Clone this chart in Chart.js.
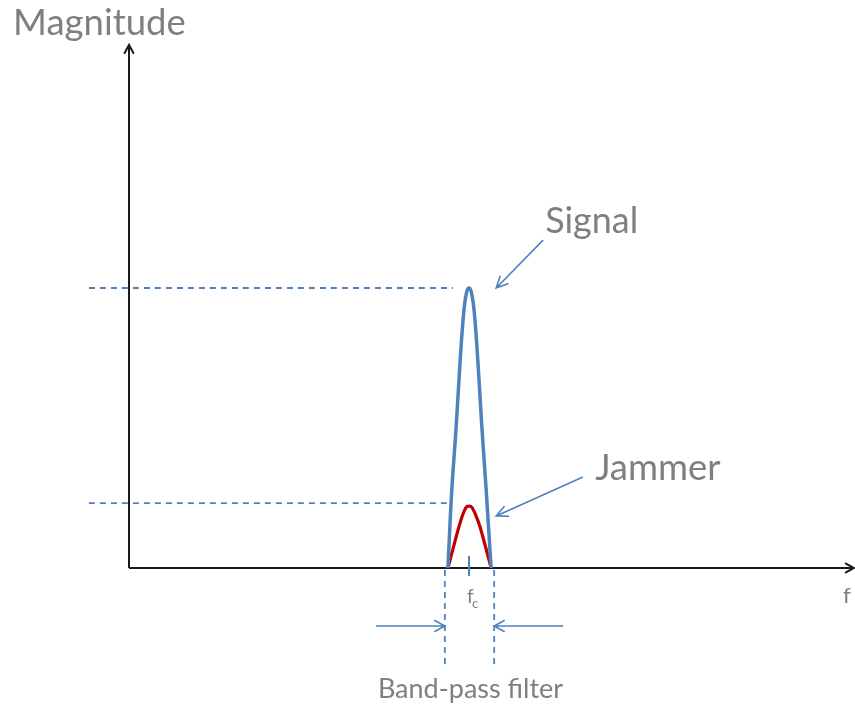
<!DOCTYPE html>
<html>
<head>
<meta charset="utf-8">
<script src="https://cdn.jsdelivr.net/npm/chart.js@4.4.1/dist/chart.umd.min.js"></script>
<style>
  html, body { margin: 0; padding: 0; background: #fff; overflow: hidden; }
  #wrap { width: 855px; height: 706px; }
</style>
</head>
<body>
<div id="wrap"><canvas id="spectrum"></canvas></div>
<script>
// frequency in arbitrary units (fc = 10), magnitude normalised to signal peak
const signalF   = [9.38, 9.49, 9.62, 9.74, 9.85, 9.93, 10.0, 10.07, 10.15, 10.26, 10.38, 10.51, 10.65];
const signalMag = [0.0, 0.27, 0.50, 0.74, 0.92, 0.985, 1.0, 0.985, 0.92, 0.74, 0.50, 0.27, 0.0];
const jammerF   = [9.38, 9.62, 9.76, 9.91, 10.0, 10.09, 10.26, 10.41, 10.65];
const jammerMag = [0.0, 0.11, 0.17, 0.216, 0.221, 0.216, 0.17, 0.11, 0.0];

const fc = 10;
const passBand = [9.29, 10.74];
const signalLevel = 1.0;
const jammerLevel = 0.232;
const levelLineStart = -1.18;
const levelLineEnd = [9.53, 9.47];
const axisEnd = { f: 21.32, mag: 1.868 };

const BLUE = '#4f81bd';
const RED = '#c00000';
const GREY = '#7f7f7f';
const FONT = 'Lato, "Open Sans", sans-serif';

const toPts = (xs, ys) => xs.map((x, i) => ({ x, y: ys[i] }));

function arrow(ctx, x1, y1, x2, y2, len, spread) {
    const a = Math.atan2(y2 - y1, x2 - x1);
    ctx.beginPath();
    ctx.moveTo(x1, y1);
    ctx.lineTo(x2, y2);
    ctx.moveTo(x2 - len * Math.cos(a - spread), y2 - len * Math.sin(a - spread));
    ctx.lineTo(x2, y2);
    ctx.lineTo(x2 - len * Math.cos(a + spread), y2 - len * Math.sin(a + spread));
    ctx.stroke();
}

// axes, filter markers, labels
const diagramPlugin = {
    id: 'diagram',
    beforeDatasetsDraw(chart) {
        const { ctx, scales: { x, y } } = chart;
        const X = v => x.getPixelForValue(v), Y = v => y.getPixelForValue(v);
        ctx.save();
        ctx.strokeStyle = '#1a1a1a';
        ctx.lineWidth = 2;
        ctx.lineCap = 'butt';
        arrow(ctx, X(0), Y(0), X(axisEnd.f), Y(0), 10, 0.5);
        arrow(ctx, X(0), Y(0), X(0), Y(axisEnd.mag), 10, 0.5);

        // band-pass edges
        ctx.strokeStyle = BLUE;
        ctx.lineWidth = 1.8;
        ctx.setLineDash([6, 5]);
        passBand.forEach(f => {
            ctx.beginPath();
            ctx.moveTo(X(f), Y(0) + 2);
            ctx.lineTo(X(f), Y(-0.346));
            ctx.stroke();
        });
        ctx.setLineDash([]);
        ctx.lineWidth = 2;
        ctx.beginPath();
        ctx.moveTo(X(fc), Y(0.043));
        ctx.lineTo(X(fc), Y(-0.029));
        ctx.stroke();
        ctx.restore();
    },
    afterDatasetsDraw(chart) {
        const { ctx, scales: { x, y } } = chart;
        const X = v => x.getPixelForValue(v), Y = v => y.getPixelForValue(v);
        ctx.save();
        ctx.strokeStyle = BLUE;
        ctx.lineWidth = 1.6;
        arrow(ctx, X(12.18), Y(1.171), X(10.80), Y(1.0), 13, 0.45);
        arrow(ctx, X(13.35), Y(0.325), X(10.80), Y(0.186), 13, 0.45);
        arrow(ctx, X(7.26), Y(-0.207), X(passBand[0]), Y(-0.207), 12, 0.5);
        arrow(ctx, X(12.77), Y(-0.207), X(passBand[1]), Y(-0.207), 12, 0.5);

        ctx.fillStyle = GREY;
        ctx.textBaseline = 'alphabetic';
        ctx.textAlign = 'left';
        ctx.font = `36.5px ${FONT}`;
        ctx.fillText('Magnitude', X(-3.41), Y(1.904), 173);
        ctx.fillText('Signal', X(12.24), Y(1.196), 93);
        ctx.fillText('Jammer', X(13.71), Y(0.314), 126);
        ctx.font = `27px ${FONT}`;
        ctx.fillText('Band-pass filter', X(7.32), Y(-0.464), 186);
        ctx.font = `22px ${FONT}`;
        ctx.fillText('f', X(21.0), Y(-0.125));
        ctx.font = `19px ${FONT}`;
        ctx.fillText('f', X(9.94), Y(-0.125));
        ctx.font = `13px ${FONT}`;
        ctx.fillText('c', X(10.09), Y(-0.143));
        ctx.restore();
    }
};

new Chart(document.getElementById('spectrum'), {
    type: 'line',
    data: {
        datasets: [
            {
                label: 'Signal level',
                data: [{ x: levelLineStart, y: signalLevel }, { x: levelLineEnd[0], y: signalLevel }],
                borderColor: BLUE, borderWidth: 1.8, borderDash: [6, 5], pointRadius: 0, order: 3
            },
            {
                label: 'Jammer level',
                data: [{ x: levelLineStart, y: jammerLevel }, { x: levelLineEnd[1], y: jammerLevel }],
                borderColor: BLUE, borderWidth: 1.8, borderDash: [6, 5], pointRadius: 0, order: 3
            },
            {
                label: 'Signal',
                data: toPts(signalF, signalMag),
                borderColor: BLUE, borderWidth: 3.5, pointRadius: 0,
                tension: 0.4, order: 1
            },
            {
                label: 'Jammer',
                data: toPts(jammerF, jammerMag),
                borderColor: RED, borderWidth: 3.2, pointRadius: 0,
                tension: 0.4, order: 2
            }
        ]
    },
    options: {
        responsive: true,
        maintainAspectRatio: false,
        animation: false,
        layout: { padding: 0 },
        scales: {
            x: { type: 'linear', min: -129 / 34, max: 726 / 34, display: false },
            y: { type: 'linear', min: -138 / 280, max: 568 / 280, display: false }
        },
        plugins: {
            legend: { display: false },
            tooltip: { enabled: false }
        }
    },
    plugins: [diagramPlugin]
});
</script>
</body>
</html>
